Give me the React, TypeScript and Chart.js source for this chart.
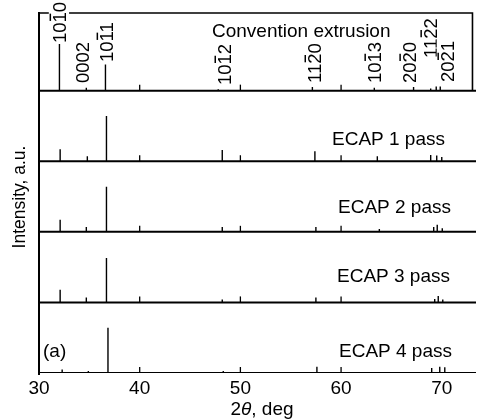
import React, { useEffect, useRef } from "react";
import { Chart, registerables } from "chart.js";

Chart.register(...registerables);

// ---------- data ----------
const xMin = 30;
const xMax = 73.4;
const xTickValues = [30, 40, 50, 60, 70];
const innerTickValues = [40, 50, 60];

const panelNames = ["ECAP 4 pass", "ECAP 3 pass", "ECAP 2 pass", "ECAP 1 pass", "Convention extrusion"];
const panelOffsets = [0, 100, 200, 300, 400];
const yMax = 510;

// peak positions (2θ, deg) and intensities (a.u.)
const ecap4Pos = [32.3, 34.9, 36.85, 48.3, 57.6, 69.0, 69.8, 70.3];
const ecap4Int = [5, 3, 64, 3, 9, 7, 9, 8];
const ecap3Pos = [32.1, 34.7, 36.7, 48.2, 57.5, 69.3, 69.65, 70.1];
const ecap3Int = [18, 7, 63, 4, 7, 5, 9, 4];
const ecap2Pos = [32.1, 34.7, 36.7, 48.2, 57.5, 63.8, 69.2, 69.55, 70.05];
const ecap2Int = [17, 7, 64, 7, 7, 4, 7, 10, 5];
const ecap1Pos = [32.1, 34.8, 36.7, 48.2, 57.4, 63.6, 68.9, 69.5, 70.0];
const ecap1Int = [17, 7, 64, 16, 14, 7, 9, 8, 6];
const extrPos = [32.03, 34.7, 36.6, 47.8, 57.15, 63.3, 67.2, 68.9, 69.45, 69.85];
const extrInt = [68, 4, 37, 2, 5, 4, 5, 3, 6, 6];

const panelPos = [ecap4Pos, ecap3Pos, ecap2Pos, ecap1Pos, extrPos];
const panelInt = [ecap4Int, ecap3Int, ecap2Int, ecap1Int, extrInt];

// Miller indices (text, index of barred digit or -1, 2θ position)
const hklText = ["1010", "0002", "1011", "1012", "1120", "1013", "2020", "1122", "2021"];
const hklBar = [2, -1, 2, 2, 2, 2, 2, 2, 2];
const hklPos = [32.03, 34.32, 36.7, 48.41, 57.35, 63.3, 66.77, 68.86, 70.55];

// ---------- layout / style ----------
const FONT = "'Liberation Sans', Arial, Helvetica, sans-serif";
const hklBottomY = [43, 83, 62, 85, 83, 83, 83, 58, 82];
const ecapLabelRight = [452, 450, 451, 445];
const ecapLabelDy = [16, 20, 19, 16];

const overlayPlugin = {
  id: "overlay",
  afterDatasetsDraw(chart: any) {
    const ctx: CanvasRenderingContext2D = chart.ctx;
    const xs = chart.scales.x;
    const ys = chart.scales.y;
    const left = chart.chartArea.left;
    const top = ys.getPixelForValue(yMax);
    const bottom = ys.getPixelForValue(0);
    ctx.save();
    ctx.strokeStyle = "#000";
    ctx.fillStyle = "#000";
    ctx.lineCap = "butt";

    // left axis
    ctx.lineWidth = 2;
    ctx.beginPath();
    ctx.moveTo(left, top - 1);
    ctx.lineTo(left, bottom + 2);
    ctx.stroke();

    // top panel frame
    const rightX = xs.getPixelForValue(73.05);
    const topBase = ys.getPixelForValue(panelOffsets[4]);
    ctx.lineWidth = 1.6;
    ctx.beginPath();
    ctx.moveTo(left - 1, top);
    ctx.lineTo(rightX, top);
    ctx.lineTo(rightX, topBase);
    ctx.stroke();

    // inner ticks on every baseline
    ctx.lineWidth = 1.3;
    panelOffsets.forEach((off) => {
      const y = ys.getPixelForValue(off);
      innerTickValues.forEach((t) => {
        const x = xs.getPixelForValue(t);
        ctx.beginPath();
        ctx.moveTo(x, y);
        ctx.lineTo(x, y - 6);
        ctx.stroke();
      });
    });

    // Miller index labels (rotated)
    const fs = 18.5;
    ctx.font = `${fs}px ${FONT}`;
    const capH = fs * 0.716;
    hklText.forEach((txt, i) => {
      const x = xs.getPixelForValue(hklPos[i]);
      const yb = hklBottomY[i];
      const w = ctx.measureText(txt).width;
      ctx.save();
      ctx.translate(x, yb);
      ctx.rotate(-Math.PI / 2);
      ctx.fillStyle = "#fff";
      ctx.fillRect(-1, -capH / 2 - 4, w + 2, capH + 7);
      ctx.fillStyle = "#000";
      ctx.textAlign = "left";
      ctx.textBaseline = "alphabetic";
      ctx.fillText(txt, 0, capH / 2);
      const b = hklBar[i];
      if (b >= 0) {
        const pre = ctx.measureText(txt.slice(0, b)).width;
        const cw = ctx.measureText(txt[b]).width;
        ctx.lineWidth = 1.5;
        ctx.beginPath();
        ctx.moveTo(pre + 1.5, -capH / 2 - 2.5);
        ctx.lineTo(pre + cw - 1.5, -capH / 2 - 2.5);
        ctx.stroke();
      }
      ctx.restore();
    });

    // panel titles
    ctx.textBaseline = "alphabetic";
    ctx.font = `19px ${FONT}`;
    ctx.textAlign = "left";
    ctx.fillText(panelNames[4], 212, 37);
    ctx.textAlign = "right";
    for (let i = 0; i < 4; i++) {
      const y = ys.getPixelForValue(panelOffsets[i]) - ecapLabelDy[i];
      ctx.fillText(panelNames[i], ecapLabelRight[i], y);
    }
    ctx.textAlign = "left";
    ctx.fillText("(a)", 43, 357);

    // y title
    ctx.save();
    ctx.translate(25, 197);
    ctx.rotate(-Math.PI / 2);
    ctx.textAlign = "center";
    ctx.font = `17.5px ${FONT}`;
    ctx.fillText("Intensity, a.u.", 0, 0);
    ctx.restore();

    // x title: 2θ, deg
    const parts = [
      { t: "2", f: `19px ${FONT}` },
      { t: "θ", f: `italic 19px ${FONT}` },
      { t: ", deg", f: `19px ${FONT}` },
    ];
    let total = 0;
    parts.forEach((p) => {
      ctx.font = p.f;
      total += ctx.measureText(p.t).width;
    });
    let cx = 262 - total / 2;
    ctx.textAlign = "left";
    parts.forEach((p) => {
      ctx.font = p.f;
      ctx.fillText(p.t, cx, 415);
      cx += ctx.measureText(p.t).width;
    });
    ctx.restore();
  },
};

export default function App() {
  const canvasRef = useRef<HTMLCanvasElement>(null);

  useEffect(() => {
    const canvas = canvasRef.current;
    if (!canvas) return;
    const datasets: any[] = [];
    panelOffsets.forEach((b, i) => {
      datasets.push({
        data: [
          { x: xMin, y: b },
          { x: xMax, y: b },
        ],
        borderColor: "#000",
        borderWidth: 2,
        pointRadius: 0,
        tension: 0,
      });
      const sticks: any[] = [];
      panelPos[i].forEach((x, j) => {
        sticks.push({ x, y: b }, { x, y: b + panelInt[i][j] }, { x, y: null });
      });
      datasets.push({
        data: sticks,
        borderColor: "#000",
        borderWidth: 1.4,
        pointRadius: 0,
        tension: 0,
        spanGaps: false,
      });
    });

    const chart = new Chart(canvas, {
      type: "line",
      data: { datasets },
      options: {
        animation: false,
        responsive: false,
        events: [],
        layout: { padding: { left: 39, right: 1, top: 13, bottom: 0 } },
        plugins: { legend: { display: false }, tooltip: { enabled: false } },
        scales: {
          x: {
            type: "linear",
            min: xMin,
            max: xMax,
            grid: { display: false, drawTicks: false },
            border: { display: false },
            afterBuildTicks: (s: any) => {
              s.ticks = xTickValues.map((v) => ({ value: v }));
            },
            afterFit: (s: any) => {
              s.height = 46;
            },
            ticks: {
              autoSkip: false,
              maxRotation: 0,
              padding: 4,
              color: "#000",
              font: { family: FONT, size: 19 },
            },
          },
          y: { type: "linear", display: false, min: 0, max: yMax },
        },
      },
      plugins: [overlayPlugin],
    } as any);
    return () => chart.destroy();
  }, []);

  return (
    <div style={{ position: "fixed", left: 0, top: 0, width: 477, height: 419, background: "#fff" }}>
      <canvas ref={canvasRef} width={477} height={419} style={{ display: "block" }} />
    </div>
  );
}
